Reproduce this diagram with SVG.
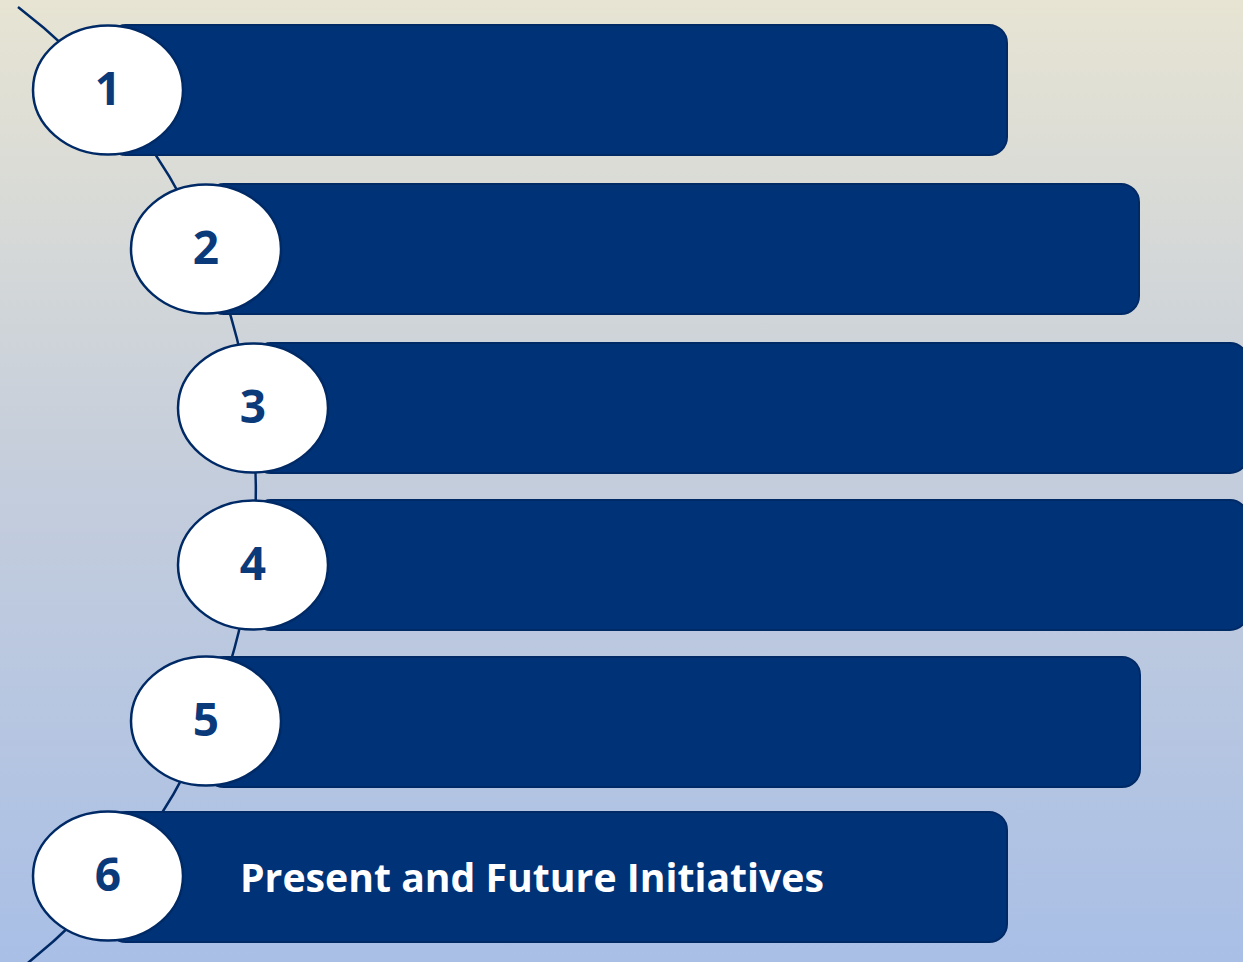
<svg xmlns="http://www.w3.org/2000/svg" width="1243" height="962" viewBox="0 0 1243 962">
<defs>
<linearGradient id="bg" x1="0" y1="0" x2="0" y2="1">
<stop offset="0" stop-color="#e7e4d3"/>
<stop offset="0.5" stop-color="#c4cddc"/>
<stop offset="1" stop-color="#a9bfe6"/>
</linearGradient>
<style>
.bar{fill:#003277;stroke:#002a66;stroke-width:2}
.ell{fill:#ffffff;stroke:#002a66;stroke-width:2.5}
.num{font-family:"Open Sans","Liberation Sans",sans-serif;font-weight:bold;font-size:46px;fill:#0b3a7b;text-anchor:middle}
.lbl{font-family:"Open Sans","Liberation Sans",sans-serif;font-weight:bold;font-size:40px;fill:#ffffff}
.arc{fill:none;stroke:#002a66;stroke-width:2.5}
</style>
</defs>
<rect x="0" y="0" width="1243" height="962" fill="url(#bg)"/>
<g id="connectors">
<path class="arc" d="M 18 7 A 607 607 0 0 1 24 966"/>
</g>
<g id="node1">
<rect class="bar" x="108" y="25" width="899" height="130" rx="18"/>
<ellipse class="ell" cx="108" cy="90" rx="75" ry="64.5"/>
<text class="num" x="108" y="105">1</text>
</g>
<g id="node2">
<rect class="bar" x="206" y="184" width="933" height="130" rx="18"/>
<ellipse class="ell" cx="206" cy="249" rx="75" ry="64.5"/>
<text class="num" x="206" y="264">2</text>
</g>
<g id="node3">
<rect class="bar" x="253" y="343" width="995" height="130" rx="18"/>
<ellipse class="ell" cx="253" cy="408" rx="75" ry="64.5"/>
<text class="num" x="253" y="423">3</text>
</g>
<g id="node4">
<rect class="bar" x="253" y="500" width="995" height="130" rx="18"/>
<ellipse class="ell" cx="253" cy="565" rx="75" ry="64.5"/>
<text class="num" x="253" y="580">4</text>
</g>
<g id="node5">
<rect class="bar" x="206" y="657" width="934" height="130" rx="18"/>
<ellipse class="ell" cx="206" cy="721" rx="75" ry="64.5"/>
<text class="num" x="206" y="736">5</text>
</g>
<g id="node6">
<rect class="bar" x="108" y="812" width="899" height="130" rx="18"/>
<ellipse class="ell" cx="108" cy="876" rx="75" ry="64.5"/>
<text class="num" x="108" y="891">6</text>
<text class="lbl" x="240" y="892" textLength="584" lengthAdjust="spacingAndGlyphs">Present and Future Initiatives</text>
</g>
</svg>
